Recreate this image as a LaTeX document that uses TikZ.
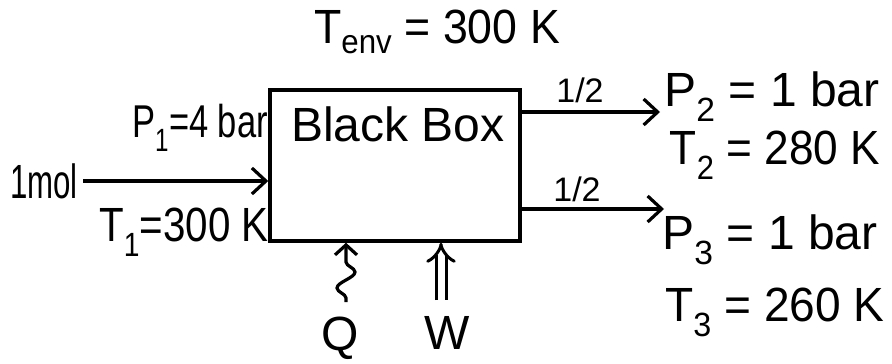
\documentclass[tikz,border=0pt]{standalone}
\usepackage{graphicx}
\usepackage{fontspec}
\setmainfont{Liberation Sans}
\usetikzlibrary{arrows.meta,decorations.pathmorphing,calc}
\newcommand\hwtext[2]{\scalebox{#1}[1]{#2}}
\begin{document}
\begin{tikzpicture}[x=1pt,y=-1pt,
  lbl/.style={font=\fontsize{48}{52}\selectfont, inner sep=0pt},
  half/.style={font=\fontsize{34}{38}\selectfont, inner sep=0pt},
  boxst/.style={draw, line width=3.5pt, minimum width=250pt, minimum height=151pt, inner sep=0pt},
  flow/.style={line width=3.2pt, -{Straight Barb[length=14pt,width=26pt,line width=3.2pt]}},
  heat/.style={line width=3.2pt, decorate,
    decoration={snake, amplitude=9pt, segment length=32pt, pre length=4pt, post length=12pt},
    -{Straight Barb[length=10pt,width=22pt,line width=3.2pt]}},
  work/.style={line width=3pt, double distance=7pt, -{Implies}}]
\useasboundingbox (0,0) rectangle (892,364);
\node[boxst] (box) at (395,165.5) {};
\node[lbl] (title) at (398,124) {Black Box};
\node[lbl] (tenv) at (437,32) {\hwtext{0.93}{T\textsubscript{env} = 300 K}};
\node[lbl] (mol) at (44,181) {\hwtext{0.65}{1mol}};
\node[lbl, font=\fontsize{46}{50}\selectfont] (p1) at (200,128) {\hwtext{0.75}{P\textsubscript{1}=4 bar}};
\node[lbl] (t1) at (184,232) {\hwtext{0.84}{T\textsubscript{1}=300 K}};
\node[half] (h1) at (580,90) {1/2};
\node[half] (h2) at (577,189) {1/2};
\node[lbl] (p2) at (772,97) {P\textsubscript{2} = 1 bar};
\node[lbl] (t2) at (775,155) {\hwtext{0.92}{T\textsubscript{2} = 280 K}};
\node[lbl] (p3) at (770,240) {P\textsubscript{3} = 1 bar};
\node[lbl] (t3) at (775,312) {\hwtext{0.96}{T\textsubscript{3} = 260 K}};
\node[lbl] (q) at (340,338) {Q};
\node[lbl] (w) at (447,333) {W};
\coordinate (o1) at (660,112);
\coordinate (o2) at (664,209);
\coordinate (qt) at (346,302);
\coordinate (wt) at (441,300);
\draw[flow] (mol.east) ++(5,0) -- (mol.east -| box.west);
\draw[flow] (o1 -| box.east) -- (o1);
\draw[flow] (o2 -| box.east) -- (o2);
\draw[heat] (qt) -- (qt |- box.south);
\draw[work] (wt) -- (wt |- box.south);
\end{tikzpicture}
\end{document}
